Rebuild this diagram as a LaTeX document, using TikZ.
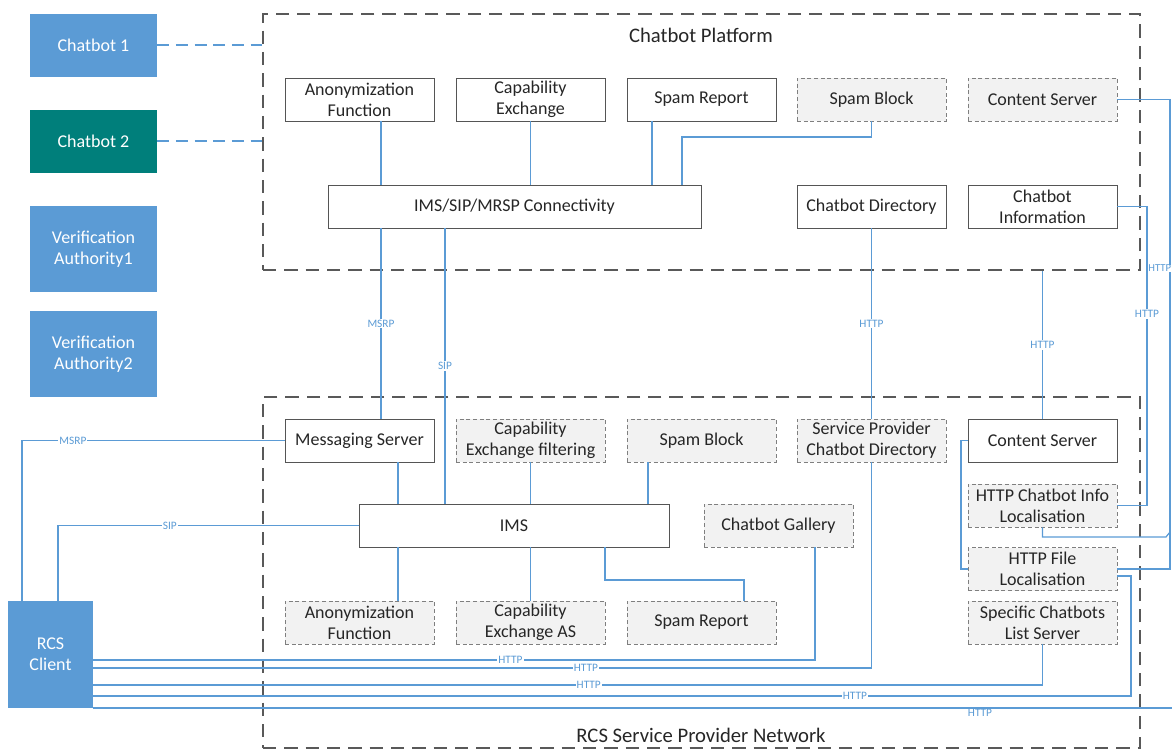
\documentclass[tikz,border=0pt]{standalone}
\usepackage{fontspec}
\setmainfont{Carlito}
\usepackage{tikz}

\definecolor{cbblue}{HTML}{5B9BD5}
\definecolor{cbteal}{HTML}{007F7B}
\definecolor{linkblue}{HTML}{5B9BD5}
\definecolor{boxline}{HTML}{555555}
\definecolor{optfill}{HTML}{F2F2F2}
\definecolor{optline}{HTML}{7F7F7F}
\definecolor{zoneline}{HTML}{595959}
\definecolor{txt}{HTML}{262626}

\newcommand{\boxfont}{\fontsize{13.5}{15.75}\selectfont}
\newcommand{\lblfont}{\fontsize{8.5}{9}\selectfont}
\newcommand{\zonefont}{\fontsize{15.5}{18}\selectfont}

\begin{document}
\begin{tikzpicture}[x=0.75pt,y=-0.75pt,
  box/.style={draw=boxline,fill=white,line width=0.7pt,minimum width=111.75pt,minimum height=32.25pt,
    align=center,inner sep=1pt,font=\boxfont,text=txt},
  optbox/.style={box,draw=optline,fill=optfill,dash pattern=on 3pt off 2pt},
  client/.style={fill=#1,text=white,align=center,font=\boxfont,minimum width=95.25pt,minimum height=47.25pt,inner sep=1pt},
  zone/.style={draw=zoneline,dash pattern=on 10pt off 6pt,line width=1.8pt,inner sep=0pt},
  link/.style={draw=linkblue,line width=0.9pt},
  botlink/.style={draw=linkblue,line width=1.5pt,dash pattern=on 9pt off 5pt},
  lbl/.style={fill=white,text=linkblue,font=\lblfont,inner sep=0.8pt}]
\useasboundingbox (0,0) rectangle (1172,749);
\clip (0,0) rectangle (1172,749);

%%% ZONES
\node[zone,minimum width=657.75pt,minimum height=192pt] (platform) at (701.5,142) {};
\node[zone,minimum width=657.75pt,minimum height=263.25pt] (network) at (701.5,572.5) {};
\node[font=\zonefont,text=txt] (platformT) at (701,35) {Chatbot Platform};
\node[font=\zonefont,text=txt] (networkT) at (701,735) {RCS Service Provider Network};

%%% LEFT COLUMN
\node[client=cbblue] (bot1) at (93.5,45.5) {Chatbot 1};
\node[client=cbteal] (bot2) at (93.5,141.5) {Chatbot 2};
\node[client=cbblue,minimum height=64.5pt] (va1) at (93.5,249) {Verification\\Authority1};
\node[client=cbblue,minimum height=64.5pt] (va2) at (93.5,354) {Verification\\Authority2};
\node[client=cbblue,minimum width=63.75pt,minimum height=80.25pt] (rcs) at (50.5,654.5) {RCS\\Client};
\path[botlink] (bot1.east) -- (bot1.east -| platform.west);
\path[botlink] (bot2.east) -- (bot2.east -| platform.west);

%%% CHATBOT PLATFORM
\node[box] (anonP) at (359.5,99.5) {Anonymization\\Function};
\node[box] (capP) at (530.5,99.5) {Capability\\Exchange};
\node[box] (spamrepP) at (701.5,99.5) {Spam Report};
\node[optbox] (spamblkP) at (871.5,99.5) {Spam Block};
\node[optbox] (contentP) at (1042.5,99.5) {Content Server};
\node[box,minimum width=279.75pt] (connP) at (514.5,206.5) {IMS/SIP/MRSP Connectivity};
\node[box] (dirP) at (871.5,206.5) {Chatbot Directory};
\node[box] (infoP) at (1042.5,206.5) {Chatbot\\Information};
\path[link] (381,0 |- anonP.south) -- (381,0 |- connP.north);
\path[link] (capP.south) -- (capP.south |- connP.north);
\path[link] (652,0 |- spamrepP.south) -- (652,0 |- connP.north);
\path[link] (spamblkP.south) |- (682,137) -- (682,0 |- connP.north);

%%% RCS SERVICE PROVIDER NETWORK
\node[box] (msgS) at (359.5,440.5) {Messaging Server};
\node[optbox] (capfS) at (530.5,440.5) {Capability\\Exchange filtering};
\node[optbox] (spamblkS) at (701.5,440.5) {Spam Block};
\node[optbox] (spdirS) at (871.5,440.5) {Service Provider\\Chatbot Directory};
\node[box] (contentS) at (1042.5,440.5) {Content Server};
\node[box,minimum width=232.5pt] (ims) at (514,525.5) {IMS};
\node[optbox] (gallery) at (778.5,525.5) {Chatbot Gallery};
\node[optbox] (infolocS) at (1042.5,505.5) {HTTP Chatbot Info\\Localisation};
\node[optbox] (filelocS) at (1042.5,569) {HTTP File\\Localisation};
\node[optbox] (listS) at (1042.5,622.5) {Specific Chatbots\\List Server};
\node[optbox] (anonS) at (359.5,622.5) {Anonymization\\Function};
\node[optbox] (capasS) at (530.5,622.5) {Capability\\Exchange AS};
\node[optbox] (spamrepS) at (701.5,622.5) {Spam Report};
\path[link] (398,0 |- msgS.south) -- (398,0 |- ims.north);
\path[link] (398,0 |- ims.south) -- (398,0 |- anonS.north);
\path[link] (capfS.south) -- (capfS.south |- ims.north);
\path[link] (648,0 |- spamblkS.south) -- (648,0 |- ims.north);
\path[link] (capasS.north |- ims.south) -- (capasS.north);
\path[link] (605,0 |- ims.south) |- (744,580) -- (744,0 |- spamrepS.north);
\path[link] (contentS.west) -| (961,0 |- filelocS.west) -- (filelocS.west);

%%% BETWEEN PLATFORM AND NETWORK
\path[link] (381,0 |- connP.south) -- node[lbl]{MSRP} (381,0 |- msgS.north);
\path[link] (445,0 |- connP.south) -- node[lbl]{SIP} (445,0 |- ims.north);
\path[link] (dirP.south) -- node[lbl]{HTTP} (spdirS.north);
\path[link] (contentS.north) -- node[lbl]{HTTP} (contentS.north |- platform.south);
\path[link] (infoP.east) -- (1147,0 |- infoP.east) -- node[lbl,pos=0.36]{HTTP} (1147,0 |- infolocS.east) -- (infolocS.east);
\path[link] (contentP.east) -- (1170,0 |- contentP.east) -- node[lbl,pos=0.36,anchor=east,xshift=1.6pt,inner sep=0.3pt,font=\fontsize{8}{9}\selectfont]{HTTP} (1170,0 |- filelocS.east) -- (filelocS.east);
\path[link] (infolocS.south) |- (1166,537) -- (1170,532);

%%% RCS CLIENT LINKS
\coordinate (offR) at (1172,708);
\path[link] (msgS.west) -- node[lbl,pos=0.806]{MSRP} (22,0 |- msgS.west) -- (22,0 |- rcs.north);
\path[link] (ims.west) -- node[lbl,pos=0.628]{SIP} (58,0 |- ims.west) -- (58,0 |- rcs.north);
\path[link] (rcs.east |- 0,660) -- node[lbl,pos=0.578]{HTTP} (815,660) -- (815,0 |- gallery.south);
\path[link] (rcs.east |- 0,668) -- node[lbl,pos=0.633]{HTTP} (spdirS.south |- 0,668) -- (spdirS.south);
\path[link] (rcs.east |- 0,685) -- node[lbl,pos=0.522]{HTTP} (listS.south |- 0,685) -- (listS.south);
\path[link] (rcs.east |- 0,696) -- node[lbl,pos=0.734]{HTTP} (1131,696) -- (1131,576) -- (filelocS.east |- 0,576);
\path[link] (rcs.east |- offR) -- node[lbl,pos=0.822,yshift=-4pt]{HTTP} (offR);
\end{tikzpicture}
\end{document}
